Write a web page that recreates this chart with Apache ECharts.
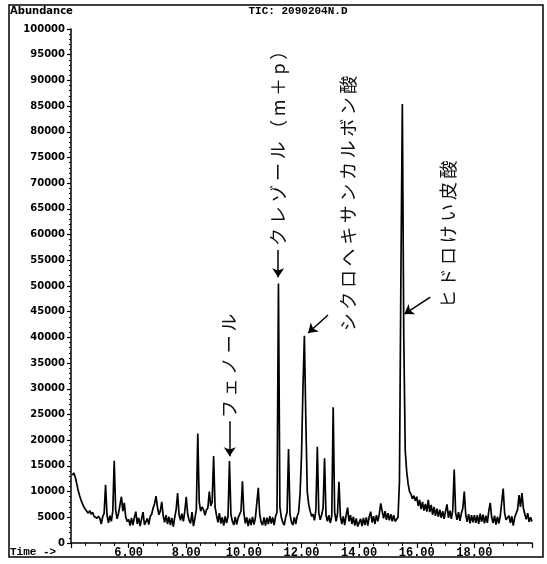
<!DOCTYPE html>
<html>
<head>
<meta charset="utf-8">
<script src="https://cdn.jsdelivr.net/npm/echarts@6/dist/echarts.min.js"></script>
<style>
  html, body { margin: 0; padding: 0; background: #fff; }
  #tic { width: 547px; height: 564px; }
</style>
</head>
<body>
<div id="tic"></div>
<script>
// TIC trace, one row per minute: [start time, abundances every 0.05 min]
var ticRows = [
    [4.05, [13200, 13600, 12800, 11500, 10200, 9200, 8300, 7600, 7000, 6500, 6300, 5800, 6300, 5600, 6000, 5200, 5500, 4800, 5200]],
    [5.00, [4800, 3700, 5100, 5800, 11300, 5400, 3900, 5300, 4200, 6200, 16000, 6400, 4700, 5800, 6000, 9000, 6200, 7800, 5000, 4200]],
    [6.00, [4600, 3400, 4900, 3500, 5000, 6100, 3700, 4900, 3300, 4700, 6000, 3500, 3300, 4800, 3600, 5200, 5600, 6800, 7600, 9100]],
    [7.00, [7000, 5500, 6200, 8000, 5300, 4000, 5400, 3700, 5100, 3500, 4900, 3200, 5000, 6500, 9700, 5600, 4400, 5700, 4200, 6200]],
    [8.00, [9000, 5600, 4400, 3800, 6000, 3300, 4800, 6500, 21300, 8000, 6200, 7000, 6500, 5400, 6400, 6800, 10000, 7200, 8000, 16900]],
    [9.00, [7000, 5400, 4000, 5800, 3800, 5000, 3400, 5200, 3900, 5200, 15950, 5600, 4200, 3500, 5100, 3600, 4900, 5000, 6200, 12000]],
    [10.00, [5800, 3800, 5000, 3300, 4800, 3500, 5100, 3600, 4900, 5200, 10750, 5600, 4000, 3500, 5000, 3400, 4900, 3700, 5200, 3800]],
    [11.00, [5000, 3500, 5200, 6000, 50500, 7000, 5000, 4000, 3500, 5000, 6000, 18300, 5600, 4100, 3500, 5000, 3700, 5200, 6000, 9500]],
    [12.00, [17000, 30000, 40300, 24000, 10000, 7500, 6200, 5200, 5600, 4400, 6500, 18700, 5800, 4500, 5500, 6800, 16500, 5400, 4200, 5400]],
    [13.00, [3900, 5200, 26400, 6000, 4200, 5700, 11900, 5200, 3700, 5200, 3500, 5400, 6900, 4200, 5400, 3700, 5100, 3400, 4800, 3200]],
    [14.00, [3500, 4700, 3300, 4900, 3500, 5000, 3400, 5100, 6100, 4000, 5200, 3700, 5400, 4200, 5600, 7700, 6200, 4800, 6200, 4500]],
    [15.00, [5800, 4400, 5600, 4200, 5400, 4200, 4400, 5000, 12000, 52000, 85400, 40000, 18000, 14000, 11500, 10000, 9500, 8600, 9200, 8200]],
    [16.00, [9000, 7200, 8400, 6600, 8000, 6300, 7600, 6100, 8400, 6000, 7400, 5500, 7000, 5300, 6700, 5100, 6500, 4900, 6200, 4700]],
    [17.00, [6200, 7500, 4900, 6300, 4700, 6400, 14300, 5800, 4500, 6000, 4300, 5800, 6800, 10000, 5500, 4100, 5600, 3800, 5400, 4000]],
    [18.00, [5400, 3900, 5400, 3700, 5700, 4100, 5500, 3800, 5300, 3900, 6200, 7800, 5000, 3900, 5300, 3600, 5100, 3800, 5300, 5600]],
    [19.00, [10600, 5800, 4500, 4700, 5300, 3900, 5200, 3400, 5000, 5200, 6500, 9300, 7000, 9700, 6800, 5600, 4600, 5800, 4100, 5000]],
    [20.00, [4200]]
];
var scanStep = 0.05;

// peak labels (text drawn rotated, starting at the anchor and running upward)
var peakNames = ['フェノール', 'クレゾール（m＋p）', 'シクロヘキサンカルボン酸', 'ヒドロけい皮酸'];
var labelAnchors = [[9.50, 24300], [11.18, 57800], [13.62, 41200], [17.10, 45700]];
var arrowTails = [[9.51, 23700], [11.19, 57000], [12.92, 44350], [16.47, 47850]];
var arrowHeads = [[9.51, 16900], [11.19, 51700], [12.23, 40850], [15.57, 44540]];

var ticData = [];
ticRows.forEach(function (row) {
    row[1].forEach(function (v, i) {
        ticData.push([+(row[0] + i * scanStep).toFixed(2), v]);
    });
});

var myChart = echarts.init(document.getElementById('tic'));

var arrowLines = arrowTails.map(function (from, i) {
    return [{coord: from}, {coord: arrowHeads[i]}];
});

var option = {
    animation: false,
    backgroundColor: '#fff',
    grid: {left: 71, right: 15, top: 29, bottom: 21},
    xAxis: {
        type: 'value',
        min: 4,
        max: 20,
        interval: 2,
        axisLine: {lineStyle: {color: '#000', width: 1.5}},
        axisTick: {length: 5, lineStyle: {color: '#000', width: 1.2}},
        minorTick: {show: true, splitNumber: 4, length: 3, lineStyle: {color: '#000', width: 1}},
        splitLine: {show: false},
        axisLabel: {
            margin: 4,
            color: '#000',
            fontFamily: 'Liberation Mono',
            fontWeight: 'bold',
            fontSize: 12,
            formatter: function (v) {
                return (v > 5 && v < 19) ? v.toFixed(2) : '';
            }
        }
    },
    yAxis: {
        type: 'value',
        min: 0,
        max: 100000,
        interval: 5000,
        axisLine: {show: true, lineStyle: {color: '#000', width: 1.5}},
        axisTick: {show: true, length: 4, lineStyle: {color: '#000', width: 1.2}},
        minorTick: {show: true, splitNumber: 5, length: 2, lineStyle: {color: '#000', width: 1}},
        splitLine: {show: false},
        axisLabel: {
            margin: 6,
            color: '#000',
            fontFamily: 'DejaVu Sans',
            fontWeight: 'bold',
            fontSize: 10,
            formatter: function (v) {
                return String(v);
            }
        }
    },
    series: [{
        type: 'line',
        data: ticData,
        showSymbol: false,
        sampling: 'none',
        lineStyle: {color: '#000', width: 1.7},
        markLine: {
            silent: true,
            symbol: ['none', 'arrow'],
            symbolSize: 9,
            label: {show: false},
            lineStyle: {color: '#000', width: 1.5, type: 'solid'},
            data: arrowLines
        }
    }]
};
myChart.setOption(option);

// frame and header texts, then the rotated peak labels
var graphics = [
    {type: 'rect', shape: {x: 9, y: 5, width: 534, height: 552}, style: {fill: 'none', stroke: '#000', lineWidth: 1.5}},
    {type: 'text', x: 10, y: 11, style: {text: 'Abundance', fill: '#000', font: 'bold 10px "DejaVu Sans"', verticalAlign: 'middle'}},
    {type: 'text', x: 298, y: 11, style: {text: 'TIC: 2090204N.D', fill: '#000', font: 'bold 11px "Liberation Mono"', align: 'center', verticalAlign: 'middle'}},
    {type: 'text', x: 10, y: 552, style: {text: 'Time ->', fill: '#000', font: 'bold 11px "Liberation Mono"', verticalAlign: 'middle'}}
];
peakNames.forEach(function (name, i) {
    var p = myChart.convertToPixel({gridIndex: 0}, labelAnchors[i]);
    graphics.push({
        type: 'text',
        x: p[0],
        y: p[1],
        rotation: Math.PI / 2,
        style: {
            text: name.split('').join('\u2009'),
            fill: '#111',
            font: '18px "Noto Sans CJK JP"',
            align: 'left',
            verticalAlign: 'middle'
        }
    });
});
myChart.setOption({graphic: graphics});
</script>
</body>
</html>
